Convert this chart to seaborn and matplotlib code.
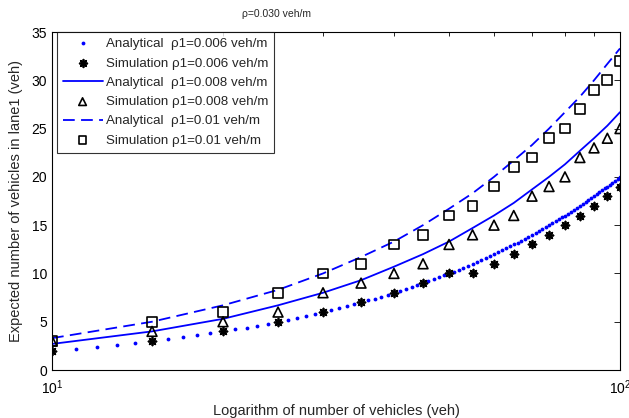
import matplotlib
matplotlib.use("Agg")
import matplotlib.pyplot as plt
import seaborn as sns
from matplotlib.ticker import LogLocator, NullFormatter, FixedLocator

# Vehicle counts
n_dense = list(range(10, 101))
n_sim = [10, 15, 20, 25, 30, 35, 40, 45, 50, 55, 60, 65, 70, 75, 80, 85, 90, 95, 100]

# Analytical, rho1 = 0.006 veh/m (evaluated at every integer n)
ana_006 = [2.0, 2.2, 2.4, 2.6, 2.8, 3.0, 3.2, 3.4, 3.6, 3.8,
           4.0, 4.2, 4.4, 4.6, 4.8, 5.0, 5.2, 5.4, 5.6, 5.8,
           6.0, 6.2, 6.4, 6.6, 6.8, 7.0, 7.2, 7.4, 7.6, 7.8,
           8.0, 8.2, 8.4, 8.6, 8.8, 9.0, 9.2, 9.4, 9.6, 9.8,
           10.0, 10.2, 10.4, 10.6, 10.8, 11.0, 11.2, 11.4, 11.6, 11.8,
           12.0, 12.2, 12.4, 12.6, 12.8, 13.0, 13.2, 13.4, 13.6, 13.8,
           14.0, 14.2, 14.4, 14.6, 14.8, 15.0, 15.2, 15.4, 15.6, 15.8,
           16.0, 16.2, 16.4, 16.6, 16.8, 17.0, 17.2, 17.4, 17.6, 17.8,
           18.0, 18.2, 18.4, 18.6, 18.8, 19.0, 19.2, 19.4, 19.6, 19.8,
           20.0]
# Analytical, rho1 = 0.008 and 0.01 veh/m
ana_008 = [2.7, 4.0, 5.3, 6.7, 8.0, 9.3, 10.7, 12.0, 13.3, 14.7,
           16.0, 17.3, 18.7, 20.0, 21.3, 22.7, 24.0, 25.3, 26.7]
ana_010 = [3.3, 5.0, 6.7, 8.3, 10.0, 11.7, 13.3, 15.0, 16.7, 18.3,
           20.0, 21.7, 23.3, 25.0, 26.7, 28.3, 30.0, 31.7, 33.3]

# Simulation results
sim_006 = [2, 3, 4, 5, 6, 7, 8, 9, 10, 10, 11, 12, 13, 14, 15, 16, 17, 18, 19]
sim_008 = [3, 4, 5, 6, 8, 9, 10, 11, 13, 14, 15, 16, 18, 19, 20, 22, 23, 24, 25]
sim_010 = [3, 5, 6, 8, 10, 11, 13, 14, 16, 17, 19, 21, 22, 24, 25, 27, 29, 30, 32]

labels = ["Analytical  \u03c11=0.006 veh/m", "Simulation \u03c11=0.006 veh/m",
          "Analytical  \u03c11=0.008 veh/m", "Simulation \u03c11=0.008 veh/m",
          "Analytical  \u03c11=0.01 veh/m", "Simulation \u03c11=0.01 veh/m"]

sns.set_theme(style="white")
plt.rcParams["font.family"] = ["Liberation Sans", "DejaVu Sans"]
plt.rcParams["xtick.direction"] = "in"
plt.rcParams["ytick.direction"] = "in"

fig, ax = plt.subplots(figsize=(6.29, 4.18), dpi=100)
fig.subplots_adjust(left=0.0827, right=0.9857, top=0.9234, bottom=0.1148)

blue = "#0000ff"
asterisk = (8, 2, 0)
sns.lineplot(x=n_dense, y=ana_006, ax=ax, color=blue, linestyle="none",
             marker=".", markersize=5.5, markeredgewidth=0, label=labels[0])
sns.scatterplot(x=n_sim, y=sim_006, ax=ax, color="black", marker=asterisk,
                s=32, linewidth=1.3, label=labels[1], zorder=3)
sns.lineplot(x=n_sim, y=ana_008, ax=ax, color=blue, linewidth=1.3, label=labels[2])
sns.scatterplot(x=n_sim, y=sim_008, ax=ax, marker="^", s=50, facecolor="none",
                edgecolor="black", linewidth=1.2, label=labels[3], zorder=3)
sns.lineplot(x=n_sim, y=ana_010, ax=ax, color=blue, linewidth=1.3, label=labels[4])
ax.lines[-1].set_dashes([6.5, 3.5])
sns.scatterplot(x=n_sim, y=sim_010, ax=ax, marker="s", s=50, facecolor="none",
                edgecolor="black", linewidth=1.2, label=labels[5], zorder=3)

ax.set_xscale("log")
ax.set_xlim(10, 100)
ax.set_ylim(0, 35)
ax.set_yticks(range(0, 36, 5))
ax.xaxis.set_major_locator(FixedLocator([10, 100]))
ax.xaxis.set_minor_locator(LogLocator(base=10, subs=range(2, 10)))
ax.xaxis.set_minor_formatter(NullFormatter())
ax.tick_params(axis="both", which="both", top=True, right=True, colors="black",
               labelsize=10, length=4, width=0.6)
ax.tick_params(axis="x", which="minor", length=3)
ax.tick_params(axis="x", which="major", pad=6)
for sp in ax.spines.values():
    sp.set_color("black")
    sp.set_linewidth(0.8)

ax.set_xlabel("Logarithm of number of vehicles (veh)", fontsize=10.5, labelpad=5)
ax.set_ylabel("Expected number of vehicles in lane1 (veh)", fontsize=10.5, labelpad=6)
fig.text(277 / 629, 1 - 14 / 418, "\u03c1=0.030 veh/m", fontsize=7.5,
         ha="center", va="center")

leg = ax.legend(loc="upper left", bbox_to_anchor=(0.008, 1.0), borderaxespad=0,
                fontsize=9.6, frameon=True, fancybox=False, edgecolor="black",
                handlelength=3.0, handletextpad=0.25, labelspacing=0.52,
                borderpad=0.45)
leg.get_frame().set_linewidth(0.8)
for h in leg.legend_handles[1::2]:
    h.set_sizes([30])

fig.savefig("out.png", dpi=100, facecolor="white")
